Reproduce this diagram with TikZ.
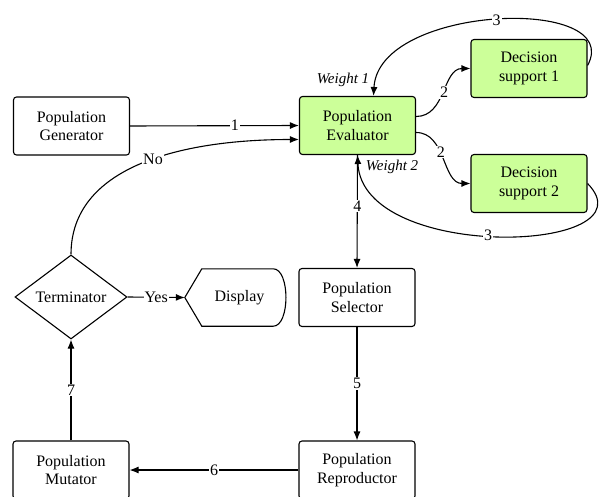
\documentclass[tikz,border=0pt]{standalone}
\usepackage{fontspec}
\setmainfont{Liberation Serif}
\usetikzlibrary{arrows.meta,shapes.geometric}
\definecolor{dsgreen}{HTML}{CCFF99}
\begin{document}
\begin{tikzpicture}[x=1pt,y=-1pt,
  font=\fontsize{16}{18.5}\selectfont,
  box/.style={draw, rounded corners=3pt, line width=1.1pt, minimum width=116pt,
    minimum height=58pt, align=center, inner sep=2pt},
  evalbox/.style={box, fill=dsgreen},
  flow/.style={line width=1.1pt, -{Latex[length=9pt,width=7pt]}},
  lbl/.style={fill=white, inner sep=1pt},
  wlbl/.style={font=\fontsize{15}{18}\selectfont\itshape}]
\useasboundingbox (0,0) rectangle (613,497);

% nodes
\node[box]     (gen)  at (71.5,126)  {Population\\Generator};
\node[evalbox] (ev)   at (357.5,125.5) {Population\\Evaluator};
\node[evalbox] (ds1)  at (529,68.5)  {Decision\\support 1};
\node[evalbox] (ds2)  at (529,183.5) {Decision\\support 2};
\node[box]     (sel)  at (357,297.5) {Population\\Selector};
\node[box]     (mut)  at (71,470)    {Population\\Mutator};
\node[box]     (rep)  at (357,470)   {Population\\Reproductor};
\node[draw, shape=diamond, line width=1.1pt, inner sep=0pt, aspect=1.33,
      minimum width=112pt, minimum height=84pt] (term) at (71,297) {Terminator};
\node[minimum width=101pt, minimum height=57pt, inner sep=0pt] (disp) at (235.5,297.5) {\hspace*{8pt}Display};
\draw[line width=1.1pt] (disp.west) -- ([xshift=17pt]disp.north west)
  -- ([xshift=-13pt]disp.north east)
  .. controls +(17,0) and +(17,0) .. ([xshift=-13pt]disp.south east)
  -- ([xshift=17pt]disp.south west) -- cycle;

% weights
\node[wlbl] (w1) at (343,80)  {Weight 1};
\node[wlbl] (w2) at (392,167) {Weight 2};

% connectors
\draw[flow] (gen.east) -- node[lbl, pos=0.62] {1} (ev.west);
\draw[flow] (term.north) .. controls +(0,-87) and +(-120,0) .. node[lbl, pos=0.55] {No} ([yshift=-14pt]ev.west);
\draw[flow] (term.east) -- node[lbl] {Yes} (disp.west);
\draw[flow] ([yshift=9pt]ev.east) .. controls +(30,0) and +(-28,0) .. node[lbl] {2} (ds1.west);
\draw[flow] ([yshift=-7pt]ev.east) .. controls +(30,0) and +(-28,0) .. node[lbl, pos=0.42] {2} (ds2.west);
\draw[flow] ([yshift=3pt]ds1.east) .. controls +(38,-70) and +(5,-92) .. node[lbl, pos=0.5] {3} ([xshift=16pt]ev.north);
\draw[flow] (ds2.east) .. controls +(68,70) and +(5,108) .. node[lbl, pos=0.53] {3} (ev.south);
\draw[flow] (ev.south) -- node[lbl, pos=0.45] {4} (sel.north);
\draw[flow] (sel.south) -- node[lbl] {5} (rep.north);
\draw[flow] (rep.west) -- node[lbl] {6} (mut.east);
\draw[flow] (mut.north) -- node[lbl] {7} (term.south);
\end{tikzpicture}
\end{document}
